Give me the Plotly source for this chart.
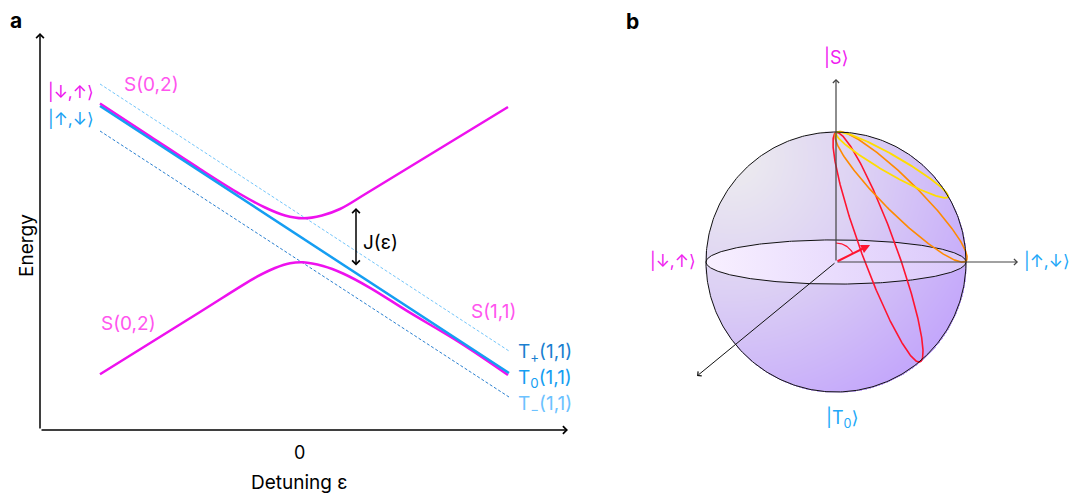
import numpy as np
import plotly.graph_objects as go

# ---------------- panel a : energy diagram (arbitrary units) ----------------
eps_lines = [-1.99, 2.10]
E_T0 = [1.34, -1.33]
E_Tplus = [1.56, -1.11]
E_Tminus = [1.09, -1.57]

eps_upper = [-1.99, -1.49, -0.99, -0.59, -0.34, -0.14, 0.04, 0.23, 0.41, 0.68, 2.09]
E_upper = [1.365, 1.037, 0.71, 0.46, 0.325, 0.245, 0.217, 0.245, 0.31, 0.47, 1.33]
eps_lower = [-1.99, -0.99, -0.42, -0.24, -0.09, 0.04, 0.24, 0.44, 0.71, 1.08, 1.61, 2.09]
E_lower = [-1.343, -0.72, -0.367, -0.28, -0.233, -0.223, -0.26, -0.335, -0.478, -0.709, -1.027, -1.35]

# ---------------- panel b : Bloch sphere (unit sphere, projected) ----------------
pole = [0.0, 0.995]                       # |S> on the sphere outline
traj_end_u = [0.646, 1.0, 0.862]          # far point of each precession loop
traj_end_v = [-0.769, 0.008, 0.500]
traj_minor = [0.133, 0.1325, 0.07]        # half-width of each loop
traj_color = ['#ff1430', '#ff8a00', '#ffdd00']
traj_lw = [1.6, 1.6, 1.8]

vec_tip = [0.262, 0.131]
equator_ry = 0.17

PINK = '#ee11ee'
PINK_L = '#ff55ee'
BLUE = '#159ef2'
FONT = 'Inter, Roboto, DejaVu Sans, sans-serif'
FS = 19

fig = go.Figure()

# ---- panel a traces
fig.add_trace(go.Scatter(x=eps_lines, y=E_Tplus, mode='lines',
                         line=dict(color='#74c6fb', width=1, dash='3px,2px'), xaxis='x', yaxis='y'))
fig.add_trace(go.Scatter(x=eps_lines, y=E_Tminus, mode='lines',
                         line=dict(color='#2a80d0', width=1, dash='3px,2px'), xaxis='x', yaxis='y'))
fig.add_trace(go.Scatter(x=eps_upper, y=E_upper, mode='lines', line_shape='spline',
                         line=dict(color=PINK, width=2.5), xaxis='x', yaxis='y'))
fig.add_trace(go.Scatter(x=eps_lower, y=E_lower, mode='lines', line_shape='spline',
                         line=dict(color=PINK, width=2.5), xaxis='x', yaxis='y'))
fig.add_trace(go.Scatter(x=eps_lines, y=E_T0, mode='lines',
                         line=dict(color=BLUE, width=2.5), xaxis='x', yaxis='y'))

# ---- panel b : sphere shading
n = 261
g = np.linspace(-1, 1, n)
X, Y = np.meshgrid(g, g)
R = np.hypot(X, Y)
Z = np.hypot(X + 0.8, Y - 0.8)
Z = Z / Z[R <= 1].max()
Z = np.where(R > 1.004, np.nan, np.round(Z, 3))
fig.add_trace(go.Heatmap(x=g, y=g, z=Z, showscale=False, hoverinfo='skip',
                         colorscale=[[0, '#ebe9ef'], [0.45, '#dcd0f4'], [1, '#c3a6fb']],
                         xaxis='x2', yaxis='y2'))

t = np.linspace(0, 2 * np.pi, 361)
fig.add_trace(go.Scatter(x=np.cos(t), y=equator_ry * np.sin(t), mode='lines', fill='toself',
                         fillgradient=dict(type='horizontal',
                                           colorscale=[[0, '#f8f0ff'], [1, '#dac8fb']]),
                         line=dict(color='#111111', width=1), xaxis='x2', yaxis='y2'))

# precession loops: ellipses whose long axis runs from |S> to the far point
for eu, ev, m, col, lw in zip(traj_end_u, traj_end_v, traj_minor, traj_color, traj_lw):
    cu, cv = (pole[0] + eu) / 2, (pole[1] + ev) / 2
    au, av = pole[0] - cu, pole[1] - cv
    L = np.hypot(au, av)
    bu, bv = -av / L * m, au / L * m
    fig.add_trace(go.Scatter(x=cu + au * np.cos(t) + bu * np.sin(t),
                             y=cv + av * np.cos(t) + bv * np.sin(t), mode='lines',
                             line=dict(color=col, width=lw), xaxis='x2', yaxis='y2'))

# angle arc
ang = np.linspace(np.pi / 2, np.radians(29), 40)
fig.add_trace(go.Scatter(x=0.146 * np.cos(ang), y=0.146 * np.sin(ang), mode='lines',
                         line=dict(color='#ff1430', width=1.2), xaxis='x2', yaxis='y2'))

# sphere outline
fig.add_trace(go.Scatter(x=np.cos(t), y=np.sin(t), mode='lines',
                         line=dict(color='#111111', width=1), xaxis='x2', yaxis='y2'))

ann = []


def arrow(x, y, ax, ay, xr, yr, color='black', width=1.5, head=4, size=1.0, both=False):
    d = dict(x=x, y=y, ax=ax, ay=ay, xref=xr, yref=yr, axref=xr, ayref=yr, text='',
             showarrow=True, arrowhead=head, arrowsize=size, arrowwidth=width, arrowcolor=color,
             standoff=0, startstandoff=0)
    if both:
        d.update(arrowside='end+start', startarrowhead=head, startarrowsize=size)
    return d


# panel a axes
ann.append(arrow(-2.59, 2.07, -2.59, -1.90, 'x', 'y'))
ann.append(arrow(2.69, -1.90, -2.59, -1.90, 'x', 'y'))
# J arrow
ann.append(arrow(0.57, 0.32, 0.57, -0.27, 'x', 'y', both=True))

# panel b axes
ann.append(arrow(0, 1.408, 0, 0, 'x2', 'y2', color='#444444', width=1.2, size=1.0))
ann.append(arrow(1.40, 0, 0, 0, 'x2', 'y2', color='#444444', width=1.2, size=1.0))
ann.append(arrow(-1.069, -0.877, 0, 0, 'x2', 'y2', color='#111111', width=1.0, size=1.1))
ann.append(arrow(vec_tip[0], vec_tip[1], 0, 0, 'x2', 'y2', color='#ff1430', width=2, head=2, size=0.9))


def txt(x, y, s, xr, yr, color='black', size=FS, xa='center', angle=0):
    return dict(x=x, y=y, text=s, xref=xr, yref=yr, showarrow=False, xanchor=xa, yanchor='middle',
                textangle=angle, font=dict(family=FONT, size=size, color=color))


# panel a labels
ann += [
    txt(-2.53, 1.49, '|↓,↑⟩', 'x', 'y', PINK, 17, 'left'),
    txt(-2.53, 1.22, '|↑,↓⟩', 'x', 'y', BLUE, 17, 'left'),
    txt(-1.77, 1.56, 'S(0,2)', 'x', 'y', PINK_L, FS, 'left'),
    txt(-2.00, -0.83, 'S(0,2)', 'x', 'y', PINK_L, FS, 'left'),
    txt(1.70, -0.71, 'S(1,1)', 'x', 'y', PINK_L, FS, 'left'),
    txt(2.17, -1.12, 'T<sub>+</sub>(1,1)', 'x', 'y', '#1b7fd0', FS, 'left'),
    txt(2.17, -1.38, 'T<sub>0</sub>(1,1)', 'x', 'y', BLUE, FS, 'left'),
    txt(2.17, -1.64, 'T<sub>−</sub>(1,1)', 'x', 'y', '#6cc2ff', FS, 'left'),
    txt(0.62, -0.02, 'J(ε)', 'x', 'y', 'black', FS, 'left'),
    txt(299 / 1070, 1 - 452 / 498, '0', 'paper', 'paper', 'black', 18),
    txt(299 / 1070, 1 - 482 / 498, 'Detuning ε', 'paper', 'paper', 'black', FS),
    txt(27 / 1070, 1 - 246 / 498, 'Energy', 'paper', 'paper', 'black', FS, angle=-90),
    txt(16 / 1070, 1 - 21 / 498, '<b>a</b>', 'paper', 'paper', 'black', 21),
    txt(632 / 1070, 1 - 22 / 498, '<b>b</b>', 'paper', 'paper', 'black', 21),
]
# panel b labels
ann += [
    txt(0, 1.577, '|S⟩', 'x2', 'y2', '#f020f0', 18),
    txt(1.43, 0.01, '|↑,↓⟩', 'x2', 'y2', '#1aa6f8', 17, 'left'),
    txt(-1.06, 0.01, '|↓,↑⟩', 'x2', 'y2', '#f020f0', 17, 'right'),
    txt(0.05, -1.20, '|T<sub>0</sub>⟩', 'x2', 'y2', '#22a8f8', 18),
]

shapes = [dict(type='line', xref='x', yref='y', x0=0, x1=0, y0=-1.90, y1=-1.95,
               line=dict(color='black', width=1.2))]

fig.update_layout(
    width=1070, height=498, margin=dict(l=0, r=0, t=0, b=0),
    paper_bgcolor='white', plot_bgcolor='white', showlegend=False,
    xaxis=dict(domain=[40 / 1070, 568 / 1070], range=[-2.59, 2.69], visible=False, anchor='y'),
    yaxis=dict(domain=[1 - 430 / 498, 1 - 33 / 498], range=[-1.90, 2.07], visible=False, anchor='x'),
    xaxis2=dict(domain=[640 / 1070, 1.0], range=[-1.5077, 1.8], visible=False, anchor='y2'),
    yaxis2=dict(domain=[0, 1], range=[-1.8154, 2.0154], visible=False, anchor='x2'),
    annotations=ann, shapes=shapes,
)

fig.write_html('out.html')
